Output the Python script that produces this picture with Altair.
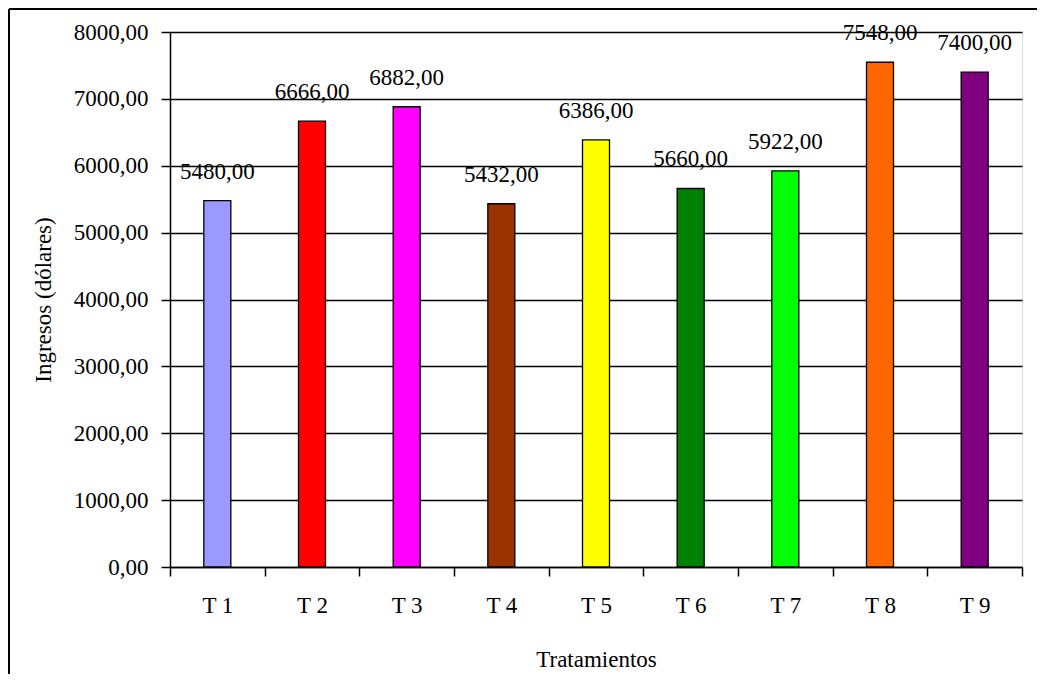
import altair as alt
import pandas as pd

categories = ["T 1", "T 2", "T 3", "T 4", "T 5", "T 6", "T 7", "T 8", "T 9"]
values = [5480, 6666, 6882, 5432, 6386, 5660, 5922, 7548, 7400]
colors = ["#9999FF", "#FF0000", "#FF00FF", "#993300", "#FFFF00",
          "#008000", "#00FF00", "#FF6600", "#800080"]
y_ticks = [0, 1000, 2000, 3000, 4000, 5000, 6000, 7000, 8000]

df = pd.DataFrame({
    "cat": categories,
    "val": values,
    "lbl": [f"{v:.2f}".replace(".", ",") for v in values],
})

FONT = "'Liberation Serif', 'Times New Roman', serif"
FS = 23

x = alt.X("cat:N", sort=categories, title="Tratamientos",
          scale=alt.Scale(paddingInner=0, paddingOuter=0),
          axis=alt.Axis(tickBand="extent", labelAngle=0, labelFontSize=FS,
                        labelFont=FONT, labelColor="black", titleFont=FONT,
                        titleFontSize=FS, titleFontWeight="normal", titleColor="black",
                        tickSize=9, tickColor="black", tickWidth=1.5,
                        domainColor="black", domainWidth=1.5,
                        labelPadding=18, titlePadding=31, grid=False))

y = alt.Y("val:Q", title="Ingresos (dólares)",
          scale=alt.Scale(domain=[0, 8000], nice=False),
          axis=alt.Axis(values=y_ticks, labelExpr="replace(format(datum.value, '.2f'), '.', ',')",
                        labelFontSize=FS, labelFont=FONT, labelColor="black",
                        titleFont=FONT, titleFontSize=FS, titleFontWeight="normal",
                        titleColor="black", tickSize=9, tickColor="black", tickWidth=1.5,
                        domainColor="black", domainWidth=1.5, labelPadding=13,
                        titlePadding=18, grid=True, gridColor="black", gridWidth=1.5))

bars = alt.Chart(df).mark_bar(size=27, stroke="black", strokeWidth=1.3).encode(
    x=x, y=y,
    color=alt.Color("cat:N", scale=alt.Scale(domain=categories, range=colors), legend=None),
)

labels = alt.Chart(df).mark_text(font=FONT, fontSize=FS, baseline="bottom", dy=-17,
                                 color="black").encode(
    x=alt.X("cat:N", sort=categories), y="val:Q", text="lbl:N")

border_df = pd.DataFrame({"k": [0]})
left_border = alt.Chart(border_df).mark_rule(color="black", strokeWidth=2).encode(
    x=alt.value(-161), y=alt.value(-23), y2=alt.value(700))
top_border = alt.Chart(border_df).mark_rule(color="black", strokeWidth=2).encode(
    x=alt.value(-161), x2=alt.value(1100), y=alt.value(-23))

chart = alt.layer(bars, labels, left_border, top_border).properties(
    width=852, height=535,
    autosize=alt.AutoSizeParams(type="none"),
    padding={"left": 162, "top": 24, "right": 15, "bottom": 107},
    background="white",
).configure_view(stroke="black", strokeWidth=1.5).configure(font=FONT)

chart.save("out.html", embed_options={"renderer": "svg", "actions": False})
